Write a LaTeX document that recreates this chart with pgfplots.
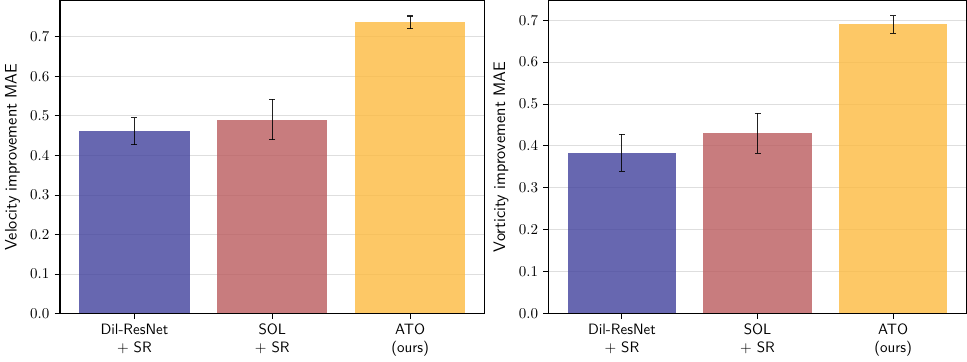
\documentclass[border=0pt]{standalone}
\usepackage{pgfplots}
\pgfplotsset{compat=1.18}
\definecolor{cblue}{RGB}{65,65,156}
\definecolor{cred}{RGB}{186,91,94}
\definecolor{cyel}{RGB}{252,186,64}
\begin{document}
\begin{tikzpicture}
\pgfplotsset{
 myaxis/.style={
  scale only axis, height=208.7pt,
  ymin=0, xmin=-0.54, xmax=2.54,
  xtick={0,1,2},
  xticklabels={{Dil-ResNet\\$+$ SR},{SOL\\$+$ SR},{ATO\\(ours)}},
  xticklabel style={align=center, font=\sffamily},
  ytick={0,0.1,0.2,0.3,0.4,0.5,0.6,0.7},
  y tick label style={/pgf/number format/.cd, fixed, fixed zerofill, precision=1, /tikz/.cd},
  ymajorgrids, grid style={black!13, line width=0.6pt},
  tick align=outside, tick pos=left, major tick length=3.5pt,
  every tick/.style={black, line width=0.6pt},
  axis line style={line width=0.8pt},
  ylabel style={font=\fontsize{11.1}{13}\selectfont\sffamily},
  ybar, bar width=0.8,
  error bars/error bar style={black, opacity=0.85, line width=0.7pt},
  error bars/error mark options={black, rotate=90, mark size=2pt, line width=0.7pt},
 },
 mybar/.style={fill=#1, fill opacity=0.8, draw=none, bar shift=0pt,
   error bars/.cd, y dir=both, y explicit},
}
\begin{axis}[myaxis, width=283.3pt, ymax=0.792, ylabel={Velocity improvement MAE}]
\addplot[mybar=cblue] coordinates {(0,0.461) +- (0,0.034)};
\addplot[mybar=cred] coordinates {(1,0.491) +- (0,0.051)};
\addplot[mybar=cyel] coordinates {(2,0.737) +- (0,0.016)};
\end{axis}
\begin{axis}[myaxis, at={(326pt,0)}, width=278.7pt, ymax=0.747, ylabel={Vorticity improvement MAE}]
\addplot[mybar=cblue] coordinates {(0,0.384) +- (0,0.044)};
\addplot[mybar=cred] coordinates {(1,0.430) +- (0,0.048)};
\addplot[mybar=cyel] coordinates {(2,0.690) +- (0,0.021)};
\end{axis}
\end{tikzpicture}
\end{document}
